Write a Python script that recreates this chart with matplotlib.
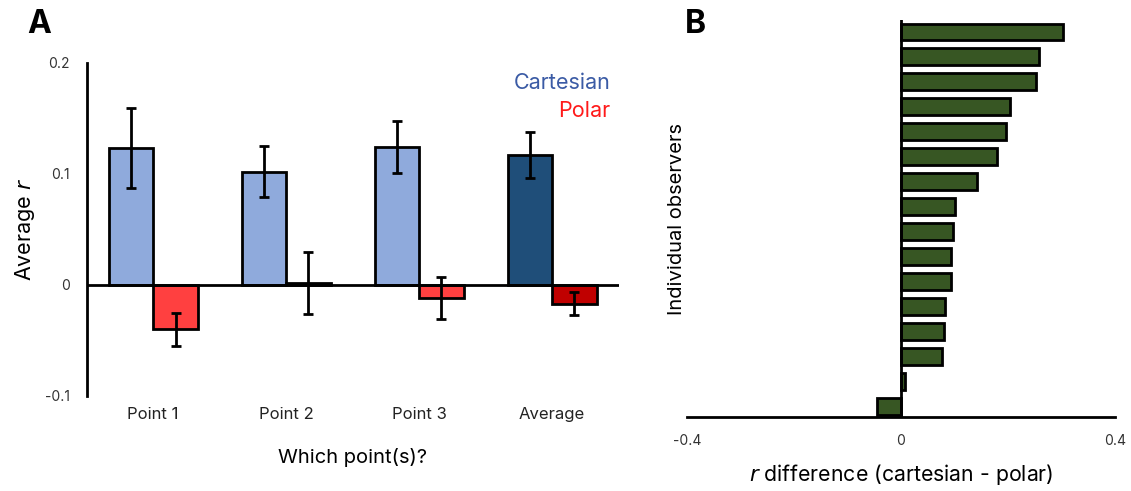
import numpy as np
import matplotlib.pyplot as plt

plt.rcParams['font.family'] = ['Inter', 'DejaVu Sans']

# Panel A data
points = ['Point 1', 'Point 2', 'Point 3', 'Average']
cartesian = [0.123, 0.102, 0.124, 0.117]
cartesian_err = [0.036, 0.023, 0.0235, 0.021]
polar = [-0.040, 0.002, -0.012, -0.017]
polar_err = [0.015, 0.028, 0.019, 0.0105]

# Panel B data (sorted, top to bottom)
observer_diff = [0.303, 0.258, 0.253, 0.204, 0.196, 0.179, 0.142, 0.101,
                 0.098, 0.094, 0.094, 0.082, 0.080, 0.077, 0.008, -0.045]

cart_colors = ['#8FAADC', '#8FAADC', '#8FAADC', '#1F4E79']
polar_colors = ['#FF4040', '#FF4040', '#FF4040', '#C00000']

fig = plt.figure(figsize=(11.31, 4.91), dpi=100)

# ---- Panel A ----
ax = fig.add_axes([0.0767, 0.1935, 0.4703, 0.6785])
x = np.arange(len(points))
w = 0.335
ax.bar(x - w / 2, cartesian, w, color=cart_colors, edgecolor='black', linewidth=2, zorder=2)
ax.bar(x + w / 2, polar, w, color=polar_colors, edgecolor='black', linewidth=2, zorder=2)
ax.errorbar(x - w / 2, cartesian, yerr=cartesian_err, fmt='none', ecolor='black',
            elinewidth=2, capsize=3.5, capthick=2, zorder=3)
ax.errorbar(x + w / 2, polar, yerr=polar_err, fmt='none', ecolor='black',
            elinewidth=2, capsize=3.5, capthick=2, zorder=3)
ax.axhline(0, color='black', linewidth=2, zorder=4)
ax.set_xlim(-0.5, 3.5)
ax.set_ylim(-0.1, 0.2)
ax.set_yticks([-0.1, 0, 0.1, 0.2])
ax.set_yticklabels(['-0.1', '0', '0.1', '0.2'], fontsize=10, color='#333333')
ax.set_xticks(x)
ax.set_xticklabels(points, fontsize=12, color='#222222')
ax.tick_params(length=0)
ax.tick_params(axis='y', pad=12)
ax.tick_params(axis='x', pad=8)
for s in ['top', 'right', 'bottom']:
    ax.spines[s].set_visible(False)
ax.spines['left'].set_linewidth(2)
ax.set_xlabel('Which point(s)?', fontsize=14.5, labelpad=19)
ax.set_ylabel('Average $\\it{r}$', fontsize=15.5, labelpad=6)
ax.text(0.985, 0.94, 'Cartesian', transform=ax.transAxes, ha='right', va='center',
        fontsize=15.5, color='#3B5BA5')
ax.text(0.985, 0.855, 'Polar', transform=ax.transAxes, ha='right', va='center',
        fontsize=15.5, color='#FF1A1A')
fig.text(0.035, 0.95, 'A', fontsize=23, fontweight='bold', ha='center', va='center')

# ---- Panel B ----
bx = fig.add_axes([0.6074, 0.150, 0.3785, 0.809])
ypos = np.arange(len(observer_diff))[::-1]
bx.barh(ypos, observer_diff, height=0.67, color='#375623', edgecolor='black',
        linewidth=2, zorder=2)
bx.axvline(0, color='black', linewidth=2, zorder=3)
bx.set_xlim(-0.4, 0.4)
bx.set_ylim(-0.44, len(observer_diff) - 0.53)
bx.set_xticks([-0.4, 0, 0.4])
bx.set_xticklabels(['-0.4', '0', '0.4'], fontsize=10, color='#333333')
bx.set_yticks([])
bx.tick_params(length=0, pad=12)
for s in ['top', 'right', 'left']:
    bx.spines[s].set_visible(False)
bx.spines['bottom'].set_linewidth(2)
bx.set_xlabel('$\\it{r}$ difference (cartesian - polar)', fontsize=15.3, labelpad=10)
bx.set_ylabel('Individual observers', fontsize=14.5, labelpad=1)
fig.text(0.615, 0.95, 'B', fontsize=23, fontweight='bold', ha='center', va='center')

fig.savefig('out.png', dpi=100)
